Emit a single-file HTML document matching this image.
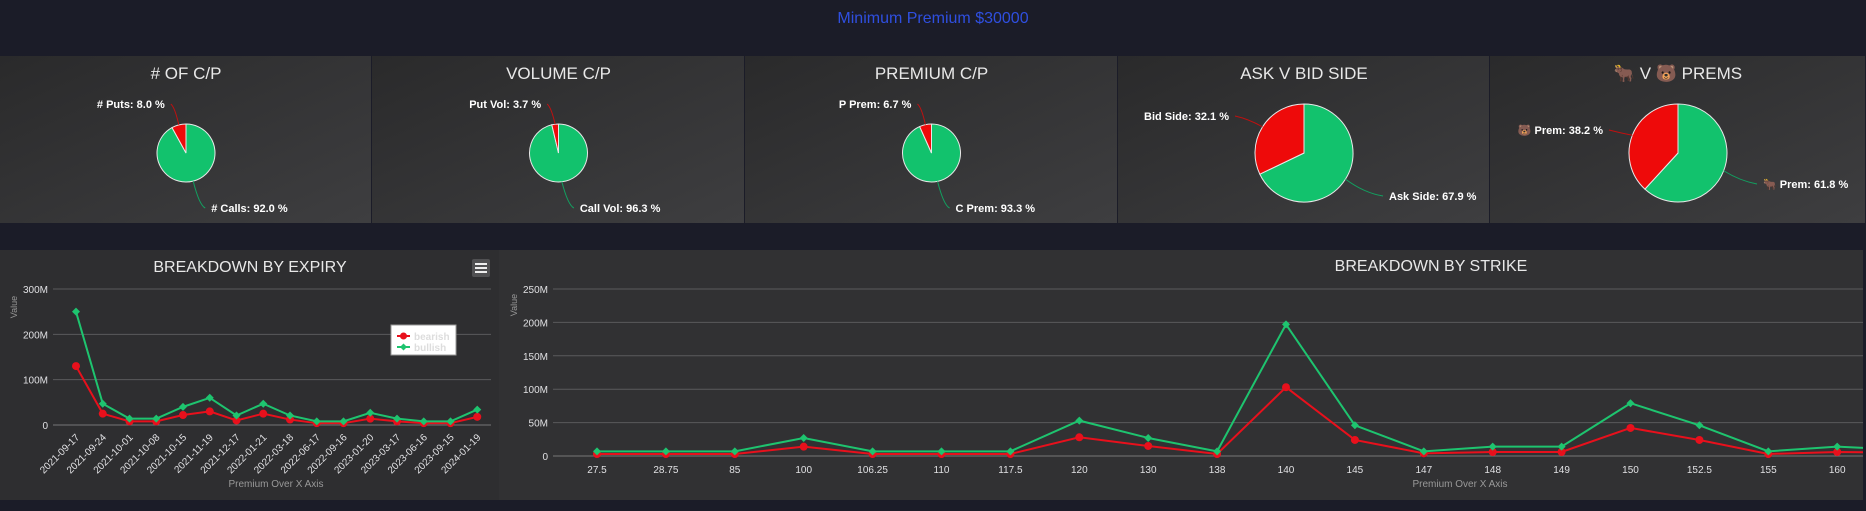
<!DOCTYPE html>
<html><head><meta charset="utf-8">
<style>
html,body{margin:0;padding:0;background:#1b1c28;width:1866px;height:511px;overflow:hidden;font-family:"Liberation Sans","Noto Sans CJK JP",sans-serif;}
svg{position:absolute;left:0;top:0;}
</style></head>
<body>
<svg id="main" width="1866" height="511" xmlns="http://www.w3.org/2000/svg">
<defs>
<linearGradient id="pg" x1="0" y1="0" x2="1" y2="1"><stop offset="0" stop-color="#2a2a2b"/><stop offset="1" stop-color="#3e3e40"/></linearGradient>
<clipPath id="clipR"><rect x="499" y="250" width="1364" height="250"/></clipPath>
</defs>
<text x="933" y="23" text-anchor="middle" font-size="16" fill="#2f4fe0">Minimum Premium $30000</text>
<g id="pies"></g>
<rect x="0" y="250" width="499" height="250" fill="#2e2e30"/>
<rect x="499" y="250" width="1364" height="250" fill="#313133"/>
<g id="expiry"></g>
<g id="strike" ></g>
</svg>
<script>
const NS='http://www.w3.org/2000/svg';
function mk(tag,attrs,parent,txt){const e=document.createElementNS(NS,tag);for(const k in attrs)e.setAttribute(k,attrs[k]);if(txt!==undefined)e.textContent=txt;parent.appendChild(e);return e;}

// ---------- pie data ----------
const pieTitles=['# OF C/P','VOLUME C/P','PREMIUM C/P','ASK V BID SIDE','🐂 V 🐻 PREMS'];
const pieGreenPct=[92.0,96.3,93.3,67.9,61.8];
const pieRedPct=[8.0,3.7,6.7,32.1,38.2];
const pieGreenLabels=['# Calls','Call Vol','C Prem','Ask Side','🐂 Prem'];
const pieRedLabels=['# Puts','Put Vol','P Prem','Bid Side','🐻 Prem'];

const pieG=document.getElementById('pies');
const panelX=[0,372,745,1118,1490,1866];
const pieR=[29,29,29,49,49];
const pieNames=['count-cp','volume-cp','premium-cp','ask-bid-side','bull-bear-prems'];
for(let i=0;i<5;i++){
  const x0=panelX[i],x1=panelX[i+1];
  const p=mk('rect',{x:x0,y:56,width:x1-x0-1,height:167,fill:'url(#pg)'},pieG);
  
  
  const cx=(x0+x1)/2, cy=153, r=pieR[i];
  const t=mk('text',{x:cx,y:79,'text-anchor':'middle','font-size':17,fill:'#e8e8e8'},pieG,pieTitles[i]);
  
  
  const tot=pieGreenPct[i]+pieRedPct[i];
  const ga=pieGreenPct[i]/tot*2*Math.PI;
  const pt=a=>[cx+r*Math.sin(a),cy-r*Math.cos(a)];
  const [gx,gy]=pt(ga);
  const large1=ga>Math.PI?1:0;
  const g=mk('path',{d:`M${cx},${cy} L${cx},${cy-r} A${r},${r} 0 ${large1} 1 ${gx},${gy} Z`,fill:'#12c26d',stroke:'#e8e8e8','stroke-width':1},pieG);
  
  
  const large2=(2*Math.PI-ga)>Math.PI?1:0;
  const rs=mk('path',{d:`M${cx},${cy} L${gx},${gy} A${r},${r} 0 ${large2} 1 ${cx},${cy-r} Z`,fill:'#ee0a0a',stroke:'#e8e8e8','stroke-width':1},pieG);
  
  
  // connectors & labels
  const gm=ga/2, rm=ga+(2*Math.PI-ga)/2;
  const [gmx,gmy]=pt(gm),[rmx,rmy]=pt(rm);
  let gLx,gLy,rLx,rLy;
  if(i<3){gLx=gmx+12;gLy=cy+55;rLx=rmx-8;rLy=cy-49;}
  else{gLx=cx+r+30;gLy=i==3?196:184;rLx=cx-r-20;rLy=i==3?116:130;}
  const gl=mk('path',{d:`M${gmx},${gmy} Q${(gmx+gLx)/2},${gLy-3} ${gLx},${gLy}`,fill:'none',stroke:'#12a060','stroke-width':1},pieG);
  
  
  const rl=mk('path',{d:`M${rmx},${rmy} Q${(rmx+rLx)/2},${rLy+3} ${rLx},${rLy}`,fill:'none',stroke:'#c01010','stroke-width':1},pieG);
  
  
  const gt=mk('text',{x:gLx+6,y:gLy+4,'font-size':11,'font-weight':'bold',fill:'#fff'},pieG,pieGreenLabels[i]+': '+pieGreenPct[i].toFixed(1)+' %');
  
  
  const rt=mk('text',{x:rLx-6,y:rLy+4,'font-size':11,'font-weight':'bold',fill:'#fff','text-anchor':'end'},pieG,pieRedLabels[i]+': '+pieRedPct[i].toFixed(1)+' %');
  
  
}

// ---------- expiry chart data ----------
const expiryCats=['2021-09-17','2021-09-24','2021-10-01','2021-10-08','2021-10-15','2021-11-19','2021-12-17','2022-01-21','2022-03-18','2022-06-17','2022-09-16','2023-01-20','2023-03-17','2023-06-16','2023-09-15','2024-01-19'];
const expiryBullish=[250,47,14,14,40,60,21,47,21,8,8,27,14,8,8,34];
const expiryBearish=[130,25,8,8,22,30,10,25,12,4,4,14,8,4,4,18];
const expiryTicks=[0,100,200,300];
const expiryTickLabels=['0','100M','200M','300M'];

// ---------- strike chart data ----------
const strikeCats=['27.5','28.75','85','100','106.25','110','117.5','120','130','138','140','145','147','148','149','150','152.5','155','160','165'];
const strikeBullish=[7,7,7,27,7,7,7,53,27,7,197,46,7,14,14,79,46,7,14,9];
const strikeBearish=[3,3,3,14,3,3,3,28,15,3,103,24,4,6,6,42,24,3,6,5];
const strikeTicks=[0,50,100,150,200,250];
const strikeTickLabels=['0','50M','100M','150M','200M','250M'];

function lineChart(g,o){
  const yS=v=>o.y0-(v-o.ymin)/(o.ymax-o.ymin)*(o.y0-o.y1);
  const xS=i=>o.xFirst+i*o.xStep;
  o.ticks.forEach((t,k)=>{
    const l=mk('line',{x1:o.gx0,x2:o.gx1,y1:yS(t),y2:yS(t),stroke:k==0?'#777':'#5a5a5c','stroke-width':1},g);
    
    
    const tl=mk('text',{x:o.gx0-5,y:yS(t)+4,'text-anchor':'end','font-size':10,fill:'#e0e0e3'},g,o.tickLabels[k]);
    
    
  });
  o.cats.forEach((c,i)=>{
    let tx;
    if(o.rot){tx=mk('text',{x:xS(i)+4,y:o.y0+13,'text-anchor':'end','font-size':10,fill:'#e0e0e3',transform:`rotate(-45 ${xS(i)+4} ${o.y0+13})`},g,c);}
    else{tx=mk('text',{x:xS(i),y:o.y0+17,'text-anchor':'middle','font-size':10,fill:'#e0e0e3'},g,c);}
    
    
  });
  const gs=mk('g',o.clip?{'clip-path':'url(#'+o.clip+')'}:{},g);
  [[o.bear,'#e8101c','bearish'],[o.bull,'#1ec46f','bullish']].forEach(([arr,col,nm])=>{
    const pts=arr.map((v,i)=>xS(i)+','+yS(v)).join(' ');
    const pl=mk('polyline',{points:pts,fill:'none',stroke:col,'stroke-width':2},gs);
    
    
    arr.forEach((v,i)=>{
      let m;
      if(nm=='bearish') m=mk('circle',{cx:xS(i),cy:yS(v),r:4,fill:col},gs);
      else {const x=xS(i),y=yS(v);m=mk('path',{d:`M${x},${y-4} L${x+4},${y} L${x},${y+4} L${x-4},${y} Z`,fill:col},gs);}
      
      
    });
  });
}

const eg=document.getElementById('expiry');
const et=mk('text',{x:250,y:272,'text-anchor':'middle','font-size':16,fill:'#e8e8e8'},eg,'BREAKDOWN BY EXPIRY');


lineChart(eg,{cats:expiryCats,bull:expiryBullish,bear:expiryBearish,ticks:expiryTicks,tickLabels:expiryTickLabels,ymin:0,ymax:300,y0:425,y1:289,gx0:53,gx1:491,xFirst:76,xStep:26.75,rot:true});
const ey=mk('text',{x:17,y:307,'text-anchor':'middle','font-size':9,fill:'#999',transform:'rotate(-90 17 307)'},eg,'Value');


const ex=mk('text',{x:276,y:487,'text-anchor':'middle','font-size':10,fill:'#999'},eg,'Premium Over X Axis');


const menu=mk('g',{},eg);


mk('rect',{x:472,y:259,width:18,height:18,fill:'#505052',rx:2},menu);
[264,268,272].forEach(y=>mk('rect',{x:475,y:y-1,width:12,height:2,fill:'#eee'},menu));
const leg=mk('g',{},eg);


mk('rect',{x:391,y:325,width:65,height:30,fill:'#fff',stroke:'#999'},leg);
mk('line',{x1:397,x2:410,y1:336,y2:336,stroke:'#e8101c','stroke-width':2},leg);
mk('circle',{cx:403.5,cy:336,r:3.5,fill:'#e8101c'},leg);
mk('text',{x:414,y:340,'font-size':10,'font-weight':'bold',fill:'#ddd'},leg,'bearish');
mk('line',{x1:397,x2:410,y1:347,y2:347,stroke:'#1ec46f','stroke-width':2},leg);
mk('path',{d:'M403.5,343.5 L407,347 L403.5,350.5 L400,347 Z',fill:'#1ec46f'},leg);
mk('text',{x:414,y:351,'font-size':10,'font-weight':'bold',fill:'#ddd'},leg,'bullish');

const sg=document.getElementById('strike');
const st=mk('text',{x:1431,y:271,'text-anchor':'middle','font-size':16,fill:'#e8e8e8'},sg,'BREAKDOWN BY STRIKE');


lineChart(sg,{cats:strikeCats,bull:strikeBullish,bear:strikeBearish,ticks:strikeTicks,tickLabels:strikeTickLabels,ymin:0,ymax:250,y0:456,y1:289,gx0:553,gx1:1863,xFirst:597,xStep:68.9,rot:false,clip:'clipR'});
const sy=mk('text',{x:517,y:305,'text-anchor':'middle','font-size':9,fill:'#999',transform:'rotate(-90 517 305)'},sg,'Value');


const sx=mk('text',{x:1460,y:487,'text-anchor':'middle','font-size':10,fill:'#999'},sg,'Premium Over X Axis');


</script>
</body></html>
